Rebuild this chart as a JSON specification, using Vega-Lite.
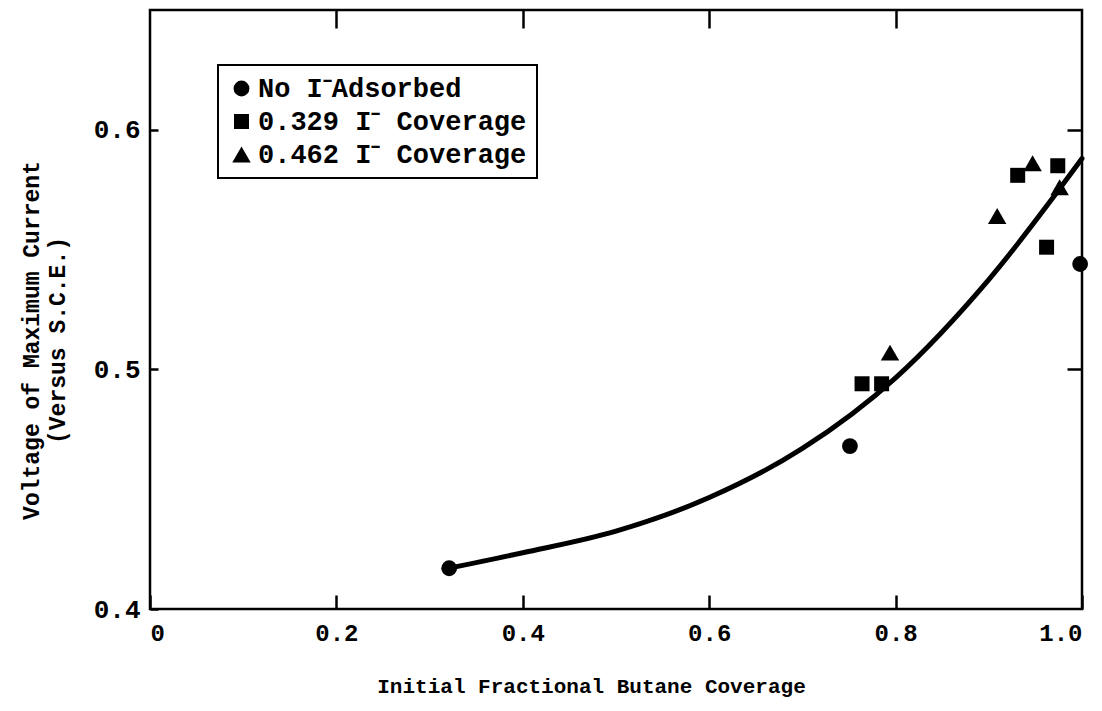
{
  "$schema": "https://vega.github.io/schema/vega-lite/v6.json",
  "width": 932,
  "height": 599,
  "autosize": "none",
  "padding": {"left": 150, "top": 10, "right": 20, "bottom": 102},
  "background": "white",
  "config": {
    "view": {"stroke": "black", "strokeWidth": 2.5},
    "font": "Liberation Mono",
    "axis": {
      "grid": false,
      "domain": false,
      "tickColor": "black",
      "tickWidth": 2.5,
      "labelColor": "black",
      "titleColor": "black",
      "labelFont": "Liberation Mono",
      "titleFont": "Liberation Mono",
      "labelFontWeight": "bold",
      "titleFontWeight": "bold"
    },
    "legend": {
      "strokeColor": "black",
      "strokeWidth": 2,
      "fillColor": "white",
      "padding": 10,
      "labelFont": "Liberation Mono",
      "labelFontWeight": "bold",
      "labelFontSize": 27,
      "labelLimit": 500,
      "labelColor": "black",
      "labelOffset": 3,
      "symbolFillColor": "black",
      "symbolStrokeColor": "black",
      "rowPadding": 5
    }
  },
  "datasets": {
    "curve": [
      {"x": 0.32, "y": 0.417},
      {"x": 0.4, "y": 0.4235},
      {"x": 0.5, "y": 0.4325},
      {"x": 0.6, "y": 0.4465},
      {"x": 0.7, "y": 0.467},
      {"x": 0.8, "y": 0.4965},
      {"x": 0.9, "y": 0.5375},
      {"x": 1.0, "y": 0.588}
    ],
    "points": [
      {"x": 0.321, "y": 0.417, "series": "No I⁻Adsorbed"},
      {"x": 0.751, "y": 0.468, "series": "No I⁻Adsorbed"},
      {"x": 0.998, "y": 0.544, "series": "No I⁻Adsorbed"},
      {"x": 0.764, "y": 0.494, "series": "0.329 I⁻ Coverage"},
      {"x": 0.785, "y": 0.494, "series": "0.329 I⁻ Coverage"},
      {"x": 0.931, "y": 0.581, "series": "0.329 I⁻ Coverage"},
      {"x": 0.974, "y": 0.585, "series": "0.329 I⁻ Coverage"},
      {"x": 0.962, "y": 0.551, "series": "0.329 I⁻ Coverage"},
      {"x": 0.794, "y": 0.507, "series": "0.462 I⁻ Coverage"},
      {"x": 0.909, "y": 0.564, "series": "0.462 I⁻ Coverage"},
      {"x": 0.947, "y": 0.586, "series": "0.462 I⁻ Coverage"},
      {"x": 0.976, "y": 0.576, "series": "0.462 I⁻ Coverage"}
    ]
  },
  "layer": [
    {
      "data": {"name": "curve"},
      "mark": {"type": "line", "interpolate": "monotone", "color": "black", "strokeWidth": 5, "strokeCap": "round"},
      "encoding": {
        "x": {
          "field": "x", "type": "quantitative",
          "scale": {"domain": [0, 1], "nice": false, "zero": false},
          "axis": {
            "orient": "bottom",
            "values": [0, 0.2, 0.4, 0.6, 0.8, 1.0],
            "labelExpr": "datum.value == 0 ? '0' : format(datum.value, '.1f')",
            "tickSize": -14,
            "labelPadding": 26,
            "labelFontSize": 24,
            "title": "Initial Fractional Butane Coverage",
            "titleFontSize": 21,
            "titlePadding": 30,
            "titleX": 441
          }
        },
        "y": {
          "field": "y", "type": "quantitative",
          "scale": {"domain": [0.4, 0.65], "nice": false, "zero": false},
          "axis": {
            "orient": "left",
            "values": [0.4, 0.5, 0.6],
            "format": ".1f",
            "tickSize": -8,
            "labelPadding": 18,
            "labelFontSize": 26,
            "title": ["Voltage of Maximum Current", "(Versus S.C.E.)"],
            "titleFontSize": 23,
            "titleLineHeight": 26,
            "titlePadding": 24,
            "titleY": 330
          }
        }
      }
    },
    {
      "data": {"name": "points"},
      "mark": {"type": "point", "filled": true, "color": "black", "opacity": 1},
      "encoding": {
        "x": {
          "field": "x", "type": "quantitative",
          "axis": {"orient": "top", "values": [0.2, 0.4, 0.6, 0.8], "labels": false, "title": null, "tickSize": -18}
        },
        "y": {
          "field": "y", "type": "quantitative",
          "axis": {"orient": "right", "values": [0.5, 0.6], "labels": false, "title": null, "tickSize": -15}
        },
        "shape": {
          "field": "series", "type": "nominal",
          "scale": {
            "domain": ["No I⁻Adsorbed", "0.329 I⁻ Coverage", "0.462 I⁻ Coverage"],
            "range": ["circle", "square", "triangle-up"]
          },
          "legend": {
            "title": null,
            "orient": "none",
            "legendX": 68,
            "legendY": 55
          }
        },
        "size": {
          "field": "series", "type": "ordinal",
          "scale": {
            "type": "ordinal",
            "domain": ["No I⁻Adsorbed", "0.329 I⁻ Coverage", "0.462 I⁻ Coverage"],
            "range": [250, 225, 340]
          },
          "legend": {
            "title": null,
            "orient": "none",
            "legendX": 68,
            "legendY": 55
          }
        }
      }
    }
  ],
  "resolve": {"axis": {"x": "independent", "y": "independent"}}
}
